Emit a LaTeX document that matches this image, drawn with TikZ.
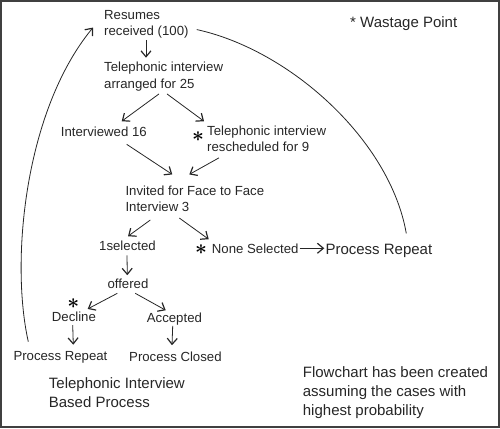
\documentclass[tikz,border=0pt]{standalone}
\usepackage{fontspec}
\setmainfont{Liberation Sans}
\usetikzlibrary{arrows.meta, positioning, calc}

\begin{document}
\begin{tikzpicture}[
    x=1pt, y=-1pt,
    every node/.style={text=black!85},
    stage/.style={anchor=base west, align=left, inner sep=1pt,
                  font=\fontsize{13.2}{16.5}\selectfont},
    note/.style={anchor=base west, align=left, inner sep=1pt,
                 font=\fontsize{15}{19}\selectfont},
    wastemark/.style={inner sep=0pt, text=black, font=\fontsize{20}{20}\selectfont\boldmath},
    arrow/.style={-{Straight Barb[length=6pt,width=10pt,line width=1.2pt]},
                  line width=0.8pt, draw=black!85},
    loopline/.style={line width=0.8pt, draw=black!85},
]

%% --- Frame ---
\useasboundingbox (0,0) rectangle (500,428);
\draw[line width=1.6pt, black!75] (0.8,0.8) rectangle (499.2,426.8);

%% --- Flow stages (base = last line) ---
\node[stage] (resumes)     at (103,36)     {Resumes\\received (100)};
\node[stage] (arranged)    at (103,88)     {Telephonic interview\\arranged for 25};
\node[stage] (interviewed) at (59.7,136)   {Interviewed 16};
\node[stage] (resched)     at (206,151.5)  {Telephonic interview\\rescheduled for 9};
\node[stage] (invited)     at (124.3,211.7){Invited for Face to Face\\Interview 3};
\node[stage] (selected)    at (98,250)     {1selected};
\node[stage] (none)        at (210.7,253)  {None Selected};
\node[note]  (repeatR)     at (324.3,254)  {Process Repeat};
\node[stage] (offered)     at (106.3,288)  {offered};
\node[stage] (decline)     at (50.7,321.7) {Decline};
\node[stage] (accepted)    at (145.7,322)  {Accepted};
\node[stage] (repeatL)     at (12.3,360)   {Process Repeat};
\node[stage] (closed)      at (128,361)    {Process Closed};

%% --- Wastage marks ---
\node[wastemark] (wst1) at (198,137)  {$\ast$};
\node[wastemark] (wst2) at (201,250)  {$\ast$};
\node[wastemark] (wst3) at (73.3,304) {$\ast$};

%% --- Notes ---
\node[note] (wastage)   at (349,28)    {* Wastage Point};
\node[note] (basedproc) at (47.7,407)  {Telephonic Interview\\Based Process};
\node[note] (flownote)  at (301.7,415)
    {Flowchart has been created\\assuming the cases with\\highest probability};

%% --- Arrows ---
\draw[arrow] ([shift={(43,0)}]resumes.south west) -- ([shift={(43,-3)}]arranged.north west);
\draw[arrow] ([shift={(56,2)}]arranged.south west) -- ([shift={(62,-4)}]interviewed.north west);
\draw[arrow] ([shift={(64,2)}]arranged.south west) -- ([shift={(-2,-3)}]resched.north west);
\draw[arrow] ([shift={(67,7)}]interviewed.south west) -- ([shift={(48,-10)}]invited.north west);
\draw[arrow] ([shift={(13,5)}]resched.south west) -- ([shift={(65,-10)}]invited.north west);
\draw[arrow] ([shift={(26,7)}]invited.south west) -- ([shift={(30,-3)}]selected.north west);
\draw[arrow] ([shift={(55,5)}]invited.south west) -- ([shift={(-2,-3)}]none.north west);
\draw[arrow] ([shift={(29,4)}]selected.south west) -- ([shift={(21,-2)}]offered.north west);
\draw[arrow] ([shift={(11,4)}]offered.south west) -- ([shift={(37,-2)}]decline.north west);
\draw[arrow] ([shift={(29,4)}]offered.south west) -- ([shift={(20,-1)}]accepted.north west);
\draw[arrow] ([shift={(22,2)}]decline.south west) -- ([shift={(61,-5)}]repeatL.north west);
\draw[arrow] ([shift={(27,0)}]accepted.south west) -- ([shift={(44,-5)}]closed.north west);
\draw[arrow] (none.east) -- (none.east -| repeatR.west);

%% --- Loops back to start ---
\draw[arrow] ([shift={(16,-8)}]repeatL.north west)
    .. controls (10,260) and (25,110) .. ([shift={(-10,3)}]resumes.west);
\draw[loopline] ([shift={(7,5)}]resumes.east)
    .. controls (290,50) and (390,140) .. ([shift={(82,-9)}]repeatR.north west);

\end{tikzpicture}
\end{document}
